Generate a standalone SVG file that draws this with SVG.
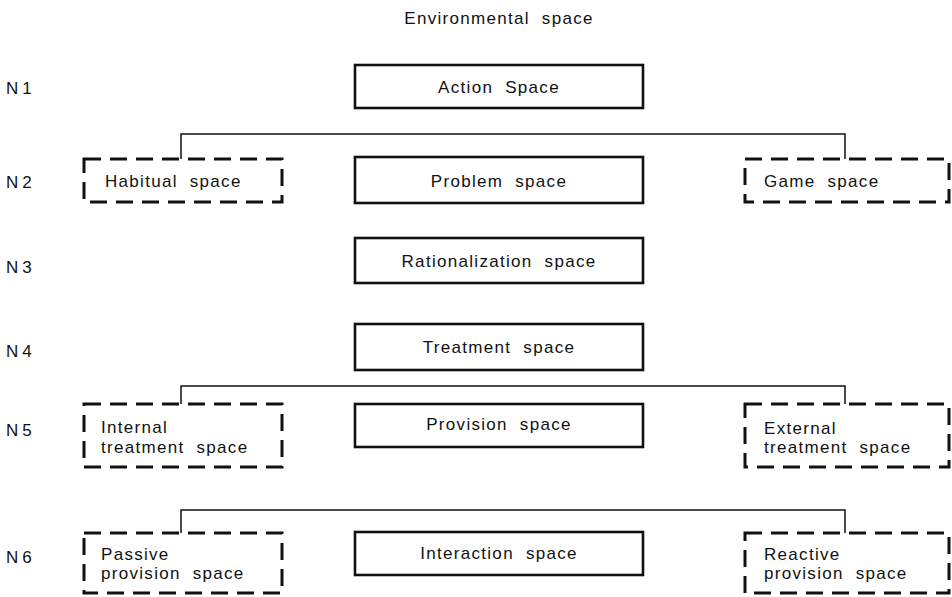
<svg xmlns="http://www.w3.org/2000/svg" width="952" height="597" viewBox="0 0 952 597">
<style>
  text { font-family: "Liberation Sans", Arial, sans-serif; font-size: 17px; fill: #111; letter-spacing: 1.3px; word-spacing: 6px; }
  .c { text-anchor: middle; }
  .solid { fill: #fff; stroke: #111; stroke-width: 2.6; }
  .dash { fill: #fff; stroke: #111; stroke-width: 3; stroke-dasharray: 17 9; }
  .conn { fill: none; stroke: #111; stroke-width: 1.5; }
</style>
<rect width="952" height="597" fill="#fff"/>
<text class="c" x="499" y="24">Environmental space</text>
<g id="levels">
  <text x="6" y="94" style="letter-spacing:4px">N1</text>
  <text x="6" y="188" style="letter-spacing:4px">N2</text>
  <text x="6" y="273" style="letter-spacing:4px">N3</text>
  <text x="6" y="357" style="letter-spacing:4px">N4</text>
  <text x="6" y="436" style="letter-spacing:4px">N5</text>
  <text x="6" y="563" style="letter-spacing:4px">N6</text>
</g>
<g id="connectors">
  <path class="conn" d="M181,159 V134 H845 V159"/>
  <path class="conn" d="M181,404 V386 H845 V404"/>
  <path class="conn" d="M181,533 V510 H845 V533"/>
</g>
<g id="action"><rect class="solid" x="355" y="65" width="288" height="43"/><text class="c" x="499" y="93">Action Space</text></g>
<g id="habitual"><rect class="dash" x="84" y="159" width="198" height="43"/><text x="105" y="187">Habitual space</text></g>
<g id="problem"><rect class="solid" x="355" y="157" width="288" height="46"/><text class="c" x="499" y="187">Problem space</text></g>
<g id="game"><rect class="dash" x="745" y="159" width="204" height="43"/><text x="764" y="187">Game space</text></g>
<g id="rationalization"><rect class="solid" x="355" y="238" width="288" height="45"/><text class="c" x="499" y="267">Rationalization space</text></g>
<g id="treatment"><rect class="solid" x="355" y="324" width="288" height="46"/><text class="c" x="499" y="353">Treatment space</text></g>
<g id="internal"><rect class="dash" x="84" y="404" width="198" height="63"/><text x="101" y="433">Internal</text><text x="101" y="453">treatment space</text></g>
<g id="provision"><rect class="solid" x="355" y="404" width="288" height="43"/><text class="c" x="499" y="430">Provision space</text></g>
<g id="external"><rect class="dash" x="745" y="404" width="204" height="63"/><text x="764" y="434">External</text><text x="764" y="453">treatment space</text></g>
<g id="passive"><rect class="dash" x="84" y="533" width="198" height="60"/><text x="101" y="560">Passive</text><text x="101" y="579">provision space</text></g>
<g id="interaction"><rect class="solid" x="355" y="532" width="288" height="43"/><text class="c" x="499" y="559">Interaction space</text></g>
<g id="reactive"><rect class="dash" x="745" y="533" width="204" height="60"/><text x="764" y="560">Reactive</text><text x="764" y="579">provision space</text></g>
</svg>
